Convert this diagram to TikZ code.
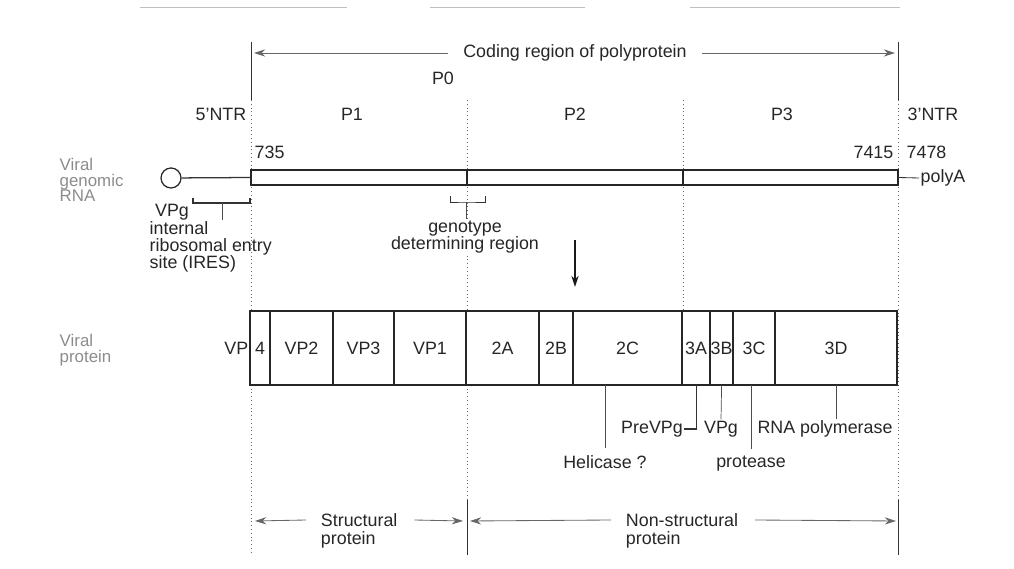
\documentclass[tikz,border=0pt]{standalone}
\usepackage{fontspec}
\setmainfont{Liberation Sans}
\usetikzlibrary{arrows.meta,positioning,calc}

\begin{document}
\begin{tikzpicture}[x=0.025cm, y=-0.025cm, >={Stealth[length=2.8mm,width=1.8mm]},
  font=\fontsize{12.7}{12.2}\selectfont, text=black!85]

\tikzstyle{gbar}=[draw=black!85, line width=1pt, fill=white, minimum height=0.375cm, inner sep=0pt, outer sep=0pt]
\tikzstyle{seg}=[draw=black!85, line width=1pt, fill=white, minimum height=1.85cm, inner sep=0pt, outer sep=0pt]
\tikzstyle{lbl}=[inner sep=1pt]
\tikzstyle{side}=[inner sep=1pt, align=left, text=black!45, font=\fontsize{12}{11}\selectfont]
\tikzstyle{guide}=[black!60, dotted, line width=0.7pt]
\tikzstyle{edge}=[black!80, line width=0.6pt]
\tikzstyle{lead}=[black!70, line width=0.5pt]
\tikzstyle{dimarrow}=[->, black!60, line width=0.6pt]

\useasboundingbox (0,0) rectangle (1014,569);

% faint page edge of the scan
\draw[black!25, line width=0.5pt] (140,7) -- (347,7) (430,7) -- (585,7) (690,7) -- (900,7);

% boundary lines
\coordinate (la) at (251,42); \coordinate (lb) at (251,100); \coordinate (lc) at (251,555);
\coordinate (ma) at (467,100); \coordinate (mb) at (467,500); \coordinate (mc) at (467,555);
\coordinate (na) at (683,100); \coordinate (nb) at (683,311);
\coordinate (ra) at (898,42); \coordinate (rb) at (898,100); \coordinate (rc) at (898,500); \coordinate (rd) at (898,555);
\draw[edge] (la) -- (lb);
\draw[edge] (ra) -- (rb);
\draw[guide] (lb) -- (lc);
\draw[guide] (ma) -- (mb);
\draw[guide] (na) -- (nb);
\draw[guide] (rb) -- (rc);
\draw[edge] (mb) -- (mc);
\draw[edge] (rc) -- (rd);

% top labels
\node[lbl] (coding) at (575,53) {Coding region of polyprotein};
\coordinate (cl) at (254,53); \coordinate (cr) at (895,53);
\draw[dimarrow] ($(coding.west)+(-14,0)$) -- (cl);
\draw[dimarrow] ($(coding.east)+(14,0)$) -- (cr);
\node[lbl] (p0) at (443,78) {P0};
\node[lbl, anchor=east] (ntr5) at (248,114) {5'NTR};
\node[lbl] (p1) at (352,114) {P1};
\node[lbl] (p2) at (575,114) {P2};
\node[lbl] (p3) at (782,114) {P3};
\node[lbl, anchor=west] (ntr3) at (906,114) {3'NTR};
\node[lbl, anchor=west] (n735) at (253,152) {735};
\node[lbl, anchor=east] (n7415) at (895,152) {7415};
\node[lbl, anchor=west] (n7478) at (905,152) {7478};

% genomic RNA
\node[side, anchor=west] (rnalbl) at (58,180) {Viral\\genomic\\RNA};
\node[gbar, minimum width=5.4cm, anchor=west] (g1) at (251,177.5) {};
\node[gbar, minimum width=5.4cm, right=0pt of g1] (g2) {};
\node[gbar, minimum width=5.375cm, right=0pt of g2] (g3) {};
\node[circle, draw=black!85, line width=0.9pt, minimum size=0.5cm, inner sep=0pt] (cap) at (171,178) {};
\draw[edge, line width=0.9pt] (cap) -- (g1.west);
\node[lbl, anchor=west] (polya) at (919,178) {polyA};
\draw[edge] (g3.east) -- (polya.west);

% VPg and IRES
\node[lbl] (vpg) at (172,212) {VPg};
\node[lbl, anchor=north west, align=left] (ires) at (148,220) {internal\\ribosomal entry\\site (IRES)};
\coordinate (vbl) at (193,198); \coordinate (vbr) at (250,198); \coordinate (vstem) at (222,203);
\draw[edge, line width=0.9pt] (vbl) |- (vstem) -| (vbr);
\draw[lead] (vstem) -- (vstem |- ires.north);

% genotype determining region
\node[lbl, align=center, fill=white] (geno) at (465,237) {genotype\\determining region};
\coordinate (gbl) at (450,196); \coordinate (gbr) at (485,196); \coordinate (gstem) at (466,202);
\draw[edge] (gbl) |- (gstem) -| (gbr);
\draw[lead] (gstem) -- (gstem |- geno.north);

% processing
\coordinate (dtop) at (575,240); \coordinate (dbot) at (575,287);
\draw[->, line width=1.6pt, black!90] (dtop) -- (dbot);

% viral protein
\node[side, anchor=west] (protlbl) at (58,350) {Viral\\protein};
\node[seg, minimum width=0.5cm, anchor=west] (vp4) at (250,348) {4};
\node[seg, minimum width=1.575cm, right=0pt of vp4] (vp2) {VP2};
\node[seg, minimum width=1.525cm, right=0pt of vp2] (vp3) {VP3};
\node[seg, minimum width=1.8cm, right=0pt of vp3] (vp1) {VP1};
\node[seg, minimum width=1.825cm, right=0pt of vp1] (a2) {2A};
\node[seg, minimum width=0.85cm, right=0pt of a2] (b2) {2B};
\node[seg, minimum width=2.725cm, right=0pt of b2] (c2) {2C};
\node[seg, minimum width=0.7cm, right=0pt of c2] (a3) {3A};
\node[seg, minimum width=0.575cm, right=0pt of a3] (b3) {3B};
\node[seg, minimum width=1.05cm, right=0pt of b3] (c3) {3C};
\node[seg, minimum width=3.05cm, right=0pt of c3] (d3) {3D};
\node[lbl, anchor=east] (vplbl) at (vp4.west) {VP};

% functions
\node[lbl] (helic) at (605,462) {Helicase ?};
\draw[lead] (helic.north |- c2.south) -- ($(helic.north)+(0,-6)$);
\node[lbl] (prevpg) at (652,429) {PreVPg};
\draw[edge, line width=0.8pt] (a3.south) |- (prevpg.east);
\node[lbl] (vpgb) at (721,429) {VPg};
\draw[lead] (b3.south) -- (vpgb.north);
\node[lbl] (prot) at (751,464) {protease};
\draw[lead] (prot.north |- c3.south) -- ($(prot.north)+(0,-6)$);
\node[lbl] (rnap) at (825,429) {RNA polymerase};
\draw[lead] (d3.south) -- (d3.south |- rnap.north);

% structural / non-structural
\node[lbl, inner sep=0.5pt, anchor=west] (struct) at (320,520) {Structural};
\node[lbl, inner sep=0.5pt, anchor=west] (structb) at (320,540) {protein};
\coordinate (sl) at (255,521); \coordinate (sr) at (463,521);
\draw[dimarrow] ($(struct.west)+(-14,0)$) -- (sl);
\draw[dimarrow] ($(struct.east)+(16,0)$) -- (sr);
\node[lbl, inner sep=0.5pt, anchor=west] (nonst) at (625,520) {Non-structural};
\node[lbl, inner sep=0.5pt, anchor=west] (nonstb) at (625,540) {protein};
\coordinate (nl) at (470,521); \coordinate (nr) at (896,521);
\draw[dimarrow] ($(nonst.west)+(-14,0)$) -- (nl);
\draw[dimarrow] ($(nonst.east)+(16,0)$) -- (nr);

\end{tikzpicture}
\end{document}
